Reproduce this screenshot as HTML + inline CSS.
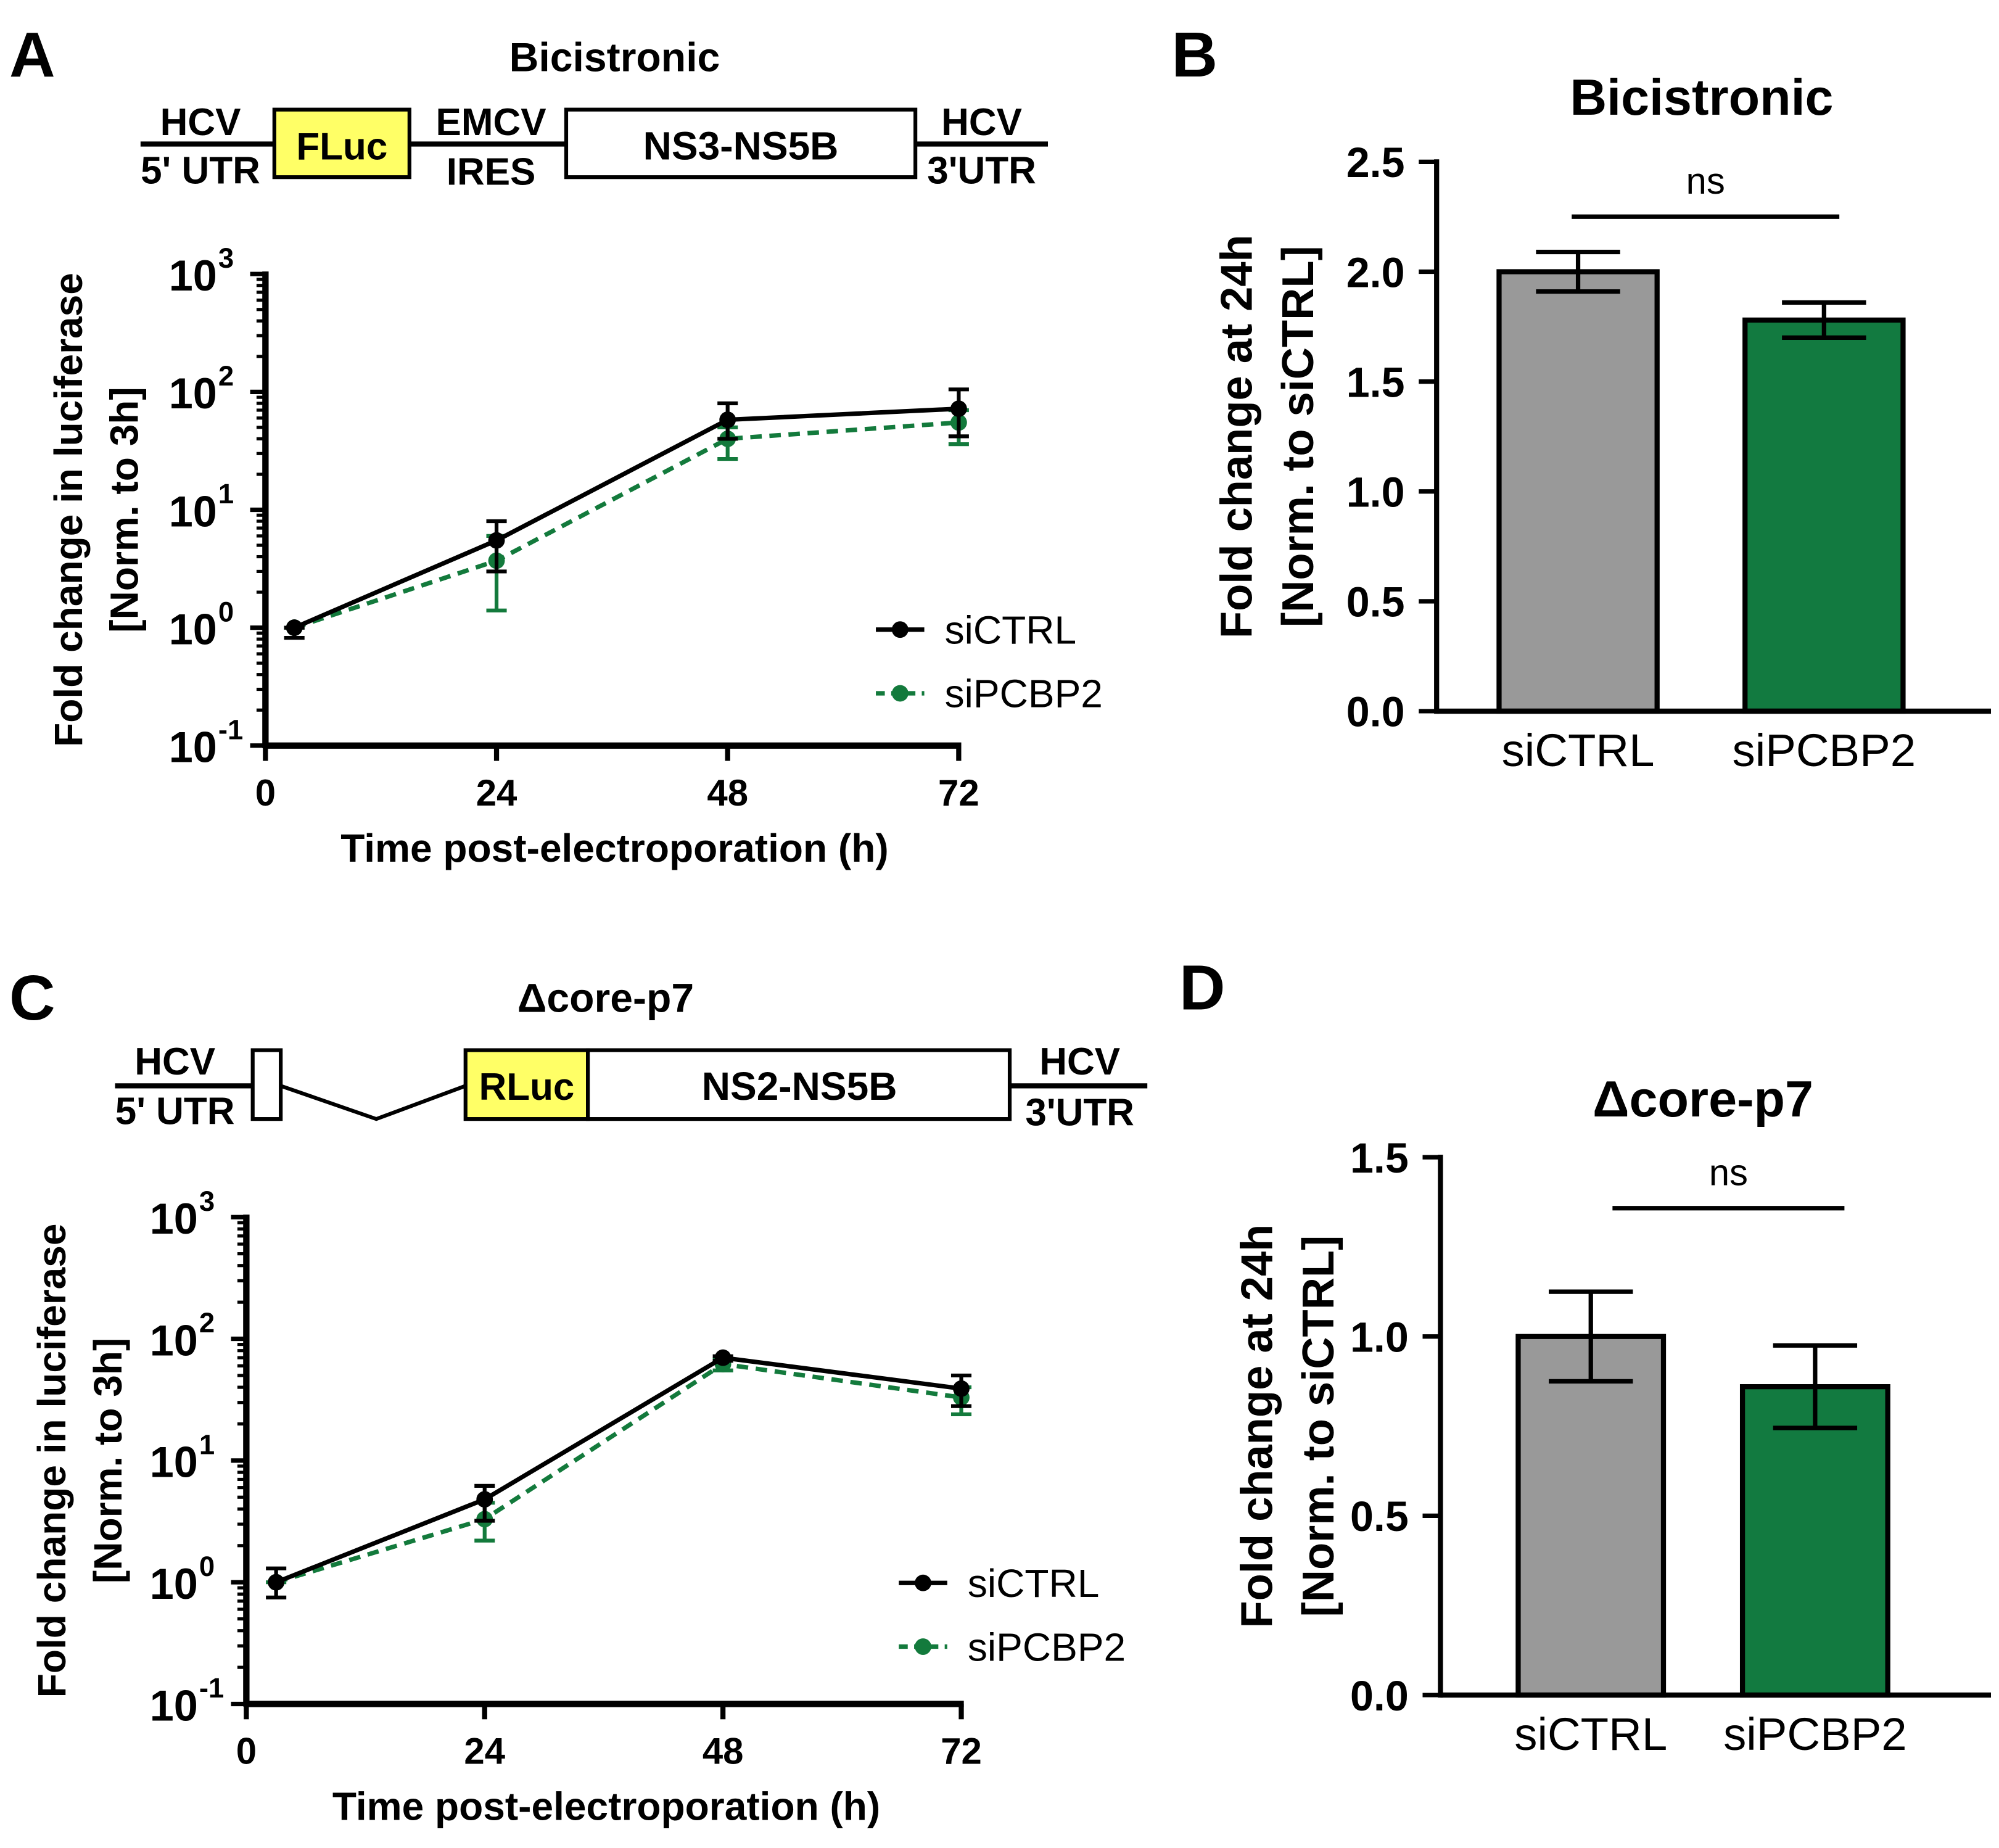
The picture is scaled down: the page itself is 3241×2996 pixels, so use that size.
<!DOCTYPE html>
<html><head><meta charset="utf-8"><style>
html,body{margin:0;padding:0;background:#fff}
svg{display:block}
text{font-family:"Liberation Sans",Arial,sans-serif;fill:#000}
.b{font-weight:bold}
</style></head><body>
<svg id="fig" width="3241" height="2996" viewBox="0 0 1568 1450" xmlns="http://www.w3.org/2000/svg">
<rect width="1568" height="1450" fill="#fff"/>
<text class="b" x="7" y="60" font-size="50">A</text>
<text class="b" x="919" y="60" font-size="50">B</text>
<text class="b" x="7" y="800" font-size="50">C</text>
<text class="b" x="925" y="792" font-size="50">D</text>

<g>
<text class="b" x="482" y="56" font-size="32" text-anchor="middle">Bicistronic</text>
<line x1="110" y1="113" x2="822" y2="113" stroke="#000" stroke-width="4"/>
<rect x="215" y="86" width="106" height="53" fill="#ffff66" stroke="#000" stroke-width="3"/>
<text class="b" x="268" y="125" font-size="30" text-anchor="middle">FLuc</text>
<rect x="444" y="86" width="274" height="53" fill="#fff" stroke="#000" stroke-width="3"/>
<text class="b" x="581" y="125" font-size="31" text-anchor="middle">NS3-NS5B</text>
<text class="b" x="157" y="106" font-size="30" text-anchor="middle">HCV</text>
<text class="b" x="157" y="144" font-size="30" text-anchor="middle">5' UTR</text>
<text class="b" x="385" y="106" font-size="30" text-anchor="middle">EMCV</text>
<text class="b" x="385" y="145" font-size="30" text-anchor="middle">IRES</text>
<text class="b" x="770" y="106" font-size="30" text-anchor="middle">HCV</text>
<text class="b" x="770" y="144" font-size="30" text-anchor="middle">3'UTR</text>
</g>

<g>
<text class="b" x="475" y="794" font-size="32" text-anchor="middle">Δcore-p7</text>
<line x1="90" y1="852" x2="198" y2="852" stroke="#000" stroke-width="4"/>
<rect x="198" y="824" width="22" height="54" fill="#fff" stroke="#000" stroke-width="3"/>
<polyline points="220,852 295,878 365,852" fill="none" stroke="#000" stroke-width="3"/>
<rect x="365" y="824" width="96" height="54" fill="#ffff66" stroke="#000" stroke-width="3"/>
<text class="b" x="413" y="863" font-size="30" text-anchor="middle">RLuc</text>
<rect x="461" y="824" width="331" height="54" fill="#fff" stroke="#000" stroke-width="3"/>
<text class="b" x="627" y="863" font-size="31" text-anchor="middle">NS2-NS5B</text>
<line x1="792" y1="852" x2="900" y2="852" stroke="#000" stroke-width="4"/>
<text class="b" x="137" y="843" font-size="30" text-anchor="middle">HCV</text>
<text class="b" x="137" y="882" font-size="30" text-anchor="middle">5' UTR</text>
<text class="b" x="847" y="843" font-size="30" text-anchor="middle">HCV</text>
<text class="b" x="847" y="883" font-size="30" text-anchor="middle">3'UTR</text>
</g>

<g id="chartA"></g>
<g id="chartC"></g>
<g id="chartB"></g>
<g id="chartD"></g>
</svg>
<script>
// ---- data ----
const timesA = [3, 24, 48, 72];
const ctrlA = [1.0, 5.5, 58, 72];
const ctrlA_lo = [0.82, 3.0, 40, 42];
const ctrlA_hi = [1.0, 8.0, 80, 105];
const pcbpA = [1.0, 3.7, 40, 55];
const pcbpA_lo = [1.0, 1.4, 27, 36];
const pcbpA_hi = [1.0, 6.0, 50, 70];

const timesC = [3, 24, 48, 72];
const ctrlC = [1.0, 4.8, 70, 39];
const ctrlC_lo = [0.75, 3.2, 66, 28];
const ctrlC_hi = [1.3, 6.2, 72, 50];
const pcbpC = [1.0, 3.3, 62, 33];
const pcbpC_lo = [1.0, 2.2, 55, 24];
const pcbpC_hi = [1.0, 4.5, 68, 40];

const xTicks = [0, 24, 48, 72];
const logExps = [-1, 0, 1, 2, 3];

const barCats = ["siCTRL", "siPCBP2"];
const barB = [2.0, 1.78];
const barB_err = [0.09, 0.08];
const ticksB = ["0.0","0.5","1.0","1.5","2.0","2.5"];
const barD = [1.0, 0.86];
const barD_err = [0.125, 0.115];
const ticksD = ["0.0","0.5","1.0","1.5"];

const NS = "http://www.w3.org/2000/svg";
const GREEN = "#137a3c";
function mk(parent, tag, attrs, text) {
  const e = document.createElementNS(NS, tag);
  for (const k in attrs) e.setAttribute(k, attrs[k]);
  if (text !== undefined) e.textContent = text;
  parent.appendChild(e);
  return e;
}

function lineChart(gid, cfg) {
  const g = document.getElementById(gid);
  const X = t => cfg.x0 + (t / 72) * (cfg.x1 - cfg.x0);
  const Y = v => cfg.yb - (Math.log10(v) + 1) / 4 * (cfg.yb - cfg.yt);
  for (let e = -1; e < 3; e++) for (let m = 2; m <= 9; m++) {
    const y = Y(m * Math.pow(10, e));
    const t = mk(g, "line", {x1: cfg.x0 - 7, y1: y, x2: cfg.x0, y2: y, stroke: "#000", "stroke-width": 2.5});
    
    
  }
  logExps.forEach(e => {
    const y = Y(Math.pow(10, e));
    const t = mk(g, "line", {x1: cfg.x0 - 12, y1: y, x2: cfg.x0, y2: y, stroke: "#000", "stroke-width": 3.5});
    
    
    const tx = mk(g, "text", {x: cfg.x0 - 38, y: y + 13, "font-size": 34, "font-weight": "bold", "text-anchor": "end"}, "10");
    
    
    const sp = mk(g, "text", {x: cfg.x0 - 37, y: y - 5, "font-size": 22, "font-weight": "bold", "text-anchor": "start"}, String(e));
    
    
  });
  const ya = mk(g, "line", {x1: cfg.x0, y1: cfg.yt - 2, x2: cfg.x0, y2: cfg.yb + 2, stroke: "#000", "stroke-width": 5});
  
  
  const xa = mk(g, "line", {x1: cfg.x0 - 2, y1: cfg.yb, x2: cfg.x1 + 2, y2: cfg.yb, stroke: "#000", "stroke-width": 5});
  
  
  xTicks.forEach(t => {
    const x = X(t);
    const tk = mk(g, "line", {x1: x, y1: cfg.yb, x2: x, y2: cfg.yb + 12, stroke: "#000", "stroke-width": 4});
    
    
    const tl = mk(g, "text", {x: x, y: cfg.yb + 47, "font-size": 29, "font-weight": "bold", "text-anchor": "middle"}, String(t));
    
    
  });
  const xt = mk(g, "text", {x: (cfg.x0 + cfg.x1) / 2 + 2, y: cfg.yb + 91, "font-size": 31, "font-weight": "bold", "text-anchor": "middle"}, "Time post-electroporation (h)");
  
  
  const cy = (cfg.yt + cfg.yb) / 2;
  const yt1 = mk(g, "text", {x: 0, y: 0, transform: `translate(${cfg.ylx},${cy}) rotate(-90)`, "font-size": 31, "font-weight": "bold", "text-anchor": "middle"}, "Fold change in luciferase");
  
  
  const yt2 = mk(g, "text", {x: 0, y: 0, transform: `translate(${cfg.ylx + 44},${cy}) rotate(-90)`, "font-size": 31, "font-weight": "bold", "text-anchor": "middle"}, "[Norm. to 3h]");
  
  

  const series = [
    {v: cfg.p, lo: cfg.plo, hi: cfg.phi, c: GREEN, dash: "9,6", name: "sipcbp2"},
    {v: cfg.c, lo: cfg.clo, hi: cfg.chi, c: "#000", dash: "", name: "sictrl"}
  ];
  series.forEach(s => {
    s.v.forEach((v, i) => {
      const x = X(cfg.t[i]);
      const eb = mk(g, "path", {d: `M${x},${Y(s.lo[i])}V${Y(s.hi[i])}M${x-8},${Y(s.lo[i])}H${x+8}M${x-8},${Y(s.hi[i])}H${x+8}`, stroke: s.c, "stroke-width": 3, fill: "none"});
      
      
    });
    const pts = s.v.map((v, i) => X(cfg.t[i]) + "," + Y(v)).join(" ");
    const pl = mk(g, "polyline", {points: pts, fill: "none", stroke: s.c, "stroke-width": 3.5, "stroke-dasharray": s.dash});
    
    
    s.v.forEach((v, i) => {
      const c = mk(g, "circle", {cx: X(cfg.t[i]), cy: Y(v), r: 6.5, fill: s.c});
      
      
    });
  });
  const leg = [{c: "#000", dash: "", label: "siCTRL", y: cfg.legY}, {c: GREEN, dash: "7,5", label: "siPCBP2", y: cfg.legY + 50}];
  leg.forEach(l => {
    const ll = mk(g, "line", {x1: cfg.legX, y1: l.y, x2: cfg.legX + 38, y2: l.y, stroke: l.c, "stroke-width": 3.5, "stroke-dasharray": l.dash});
    
    
    const lc = mk(g, "circle", {cx: cfg.legX + 19, cy: l.y, r: 6.5, fill: l.c});
    
    
    const lt = mk(g, "text", {x: cfg.legX + 54, y: l.y + 11, "font-size": 31}, l.label);
    
    
  });
}

function barChart(gid, cfg) {
  const g = document.getElementById(gid);
  const Y = v => cfg.y0 - v / cfg.max * (cfg.y0 - cfg.yt);
  cfg.ticks.forEach(t => {
    const y = Y(parseFloat(t));
    const tk = mk(g, "line", {x1: cfg.x0 - 14, y1: y, x2: cfg.x0, y2: y, stroke: "#000", "stroke-width": 3.5});
    
    
    const tl = mk(g, "text", {x: cfg.x0 - 25, y: y + 12, "font-size": 33, "font-weight": "bold", "text-anchor": "end"}, t);
    
    
  });
  const cols = ["#999999", "#127a40"];
  cfg.vals.forEach((v, i) => {
    const cx = cfg.cx[i];
    const r = mk(g, "rect", {x: cx - cfg.w / 2, y: Y(v), width: cfg.w, height: cfg.y0 - Y(v), fill: cols[i], stroke: "#000", "stroke-width": 4});
    
    
    const e = cfg.err[i];
    const eb = mk(g, "path", {d: `M${cx},${Y(v-e)}V${Y(v+e)}M${cx-33},${Y(v-e)}H${cx+33}M${cx-33},${Y(v+e)}H${cx+33}`, stroke: "#000", "stroke-width": 3.5, fill: "none"});
    
    
    const cl = mk(g, "text", {x: cx, y: cfg.y0 + 43, "font-size": 36, "text-anchor": "middle"}, barCats[i]);
    
    
  });
  const ya = mk(g, "line", {x1: cfg.x0, y1: cfg.yt - 2, x2: cfg.x0, y2: cfg.y0 + 2, stroke: "#000", "stroke-width": 4});
  
  
  const xa = mk(g, "line", {x1: cfg.x0, y1: cfg.y0, x2: cfg.x1, y2: cfg.y0, stroke: "#000", "stroke-width": 4});
  
  
  const sl = mk(g, "line", {x1: cfg.ns[0], y1: cfg.ns[2], x2: cfg.ns[1], y2: cfg.ns[2], stroke: "#000", "stroke-width": 3.5});
  
  
  const st = mk(g, "text", {x: (cfg.ns[0] + cfg.ns[1]) / 2, y: cfg.ns[2] - 18, "font-size": 29, "text-anchor": "middle"}, "ns");
  
  
  const ti = mk(g, "text", {x: cfg.titleX, y: cfg.titleY, "font-size": 40, "font-weight": "bold", "text-anchor": "middle"}, cfg.title);
  
  
  const cy = (cfg.y0 + cfg.yt) / 2;
  const y1 = mk(g, "text", {x: 0, y: 0, transform: `translate(${cfg.ylx},${cy}) rotate(-90)`, "font-size": 35, "font-weight": "bold", "text-anchor": "middle"}, "Fold change at 24h");
  
  
  const y2 = mk(g, "text", {x: 0, y: 0, transform: `translate(${cfg.ylx + 48},${cy}) rotate(-90)`, "font-size": 35, "font-weight": "bold", "text-anchor": "middle"}, "[Norm. to siCTRL]");
  
  
}

lineChart("chartA", {x0: 208, x1: 752, yt: 215, yb: 585, ylx: 64, t: timesA,
  c: ctrlA, clo: ctrlA_lo, chi: ctrlA_hi, p: pcbpA, plo: pcbpA_lo, phi: pcbpA_hi, legX: 687, legY: 494});
lineChart("chartC", {x0: 193, x1: 754, yt: 955, yb: 1337, ylx: 51, t: timesC,
  c: ctrlC, clo: ctrlC_lo, chi: ctrlC_hi, p: pcbpC, plo: pcbpC_lo, phi: pcbpC_hi, legX: 705, legY: 1242});
barChart("chartB", {x0: 1127, x1: 1562, y0: 558, yt: 127, max: 2.5, w: 124, cx: [1238, 1431],
  vals: barB, err: barB_err, ticks: ticksB, ns: [1233, 1443, 170], title: "Bicistronic", titleX: 1335, titleY: 90, ylx: 982});
barChart("chartD", {x0: 1130, x1: 1562, y0: 1330, yt: 908, max: 1.5, w: 114, cx: [1248, 1424],
  vals: barD, err: barD_err, ticks: ticksD, ns: [1265, 1447, 948], title: "Δcore-p7", titleX: 1336, titleY: 876, ylx: 998});
</script>
</body></html>
